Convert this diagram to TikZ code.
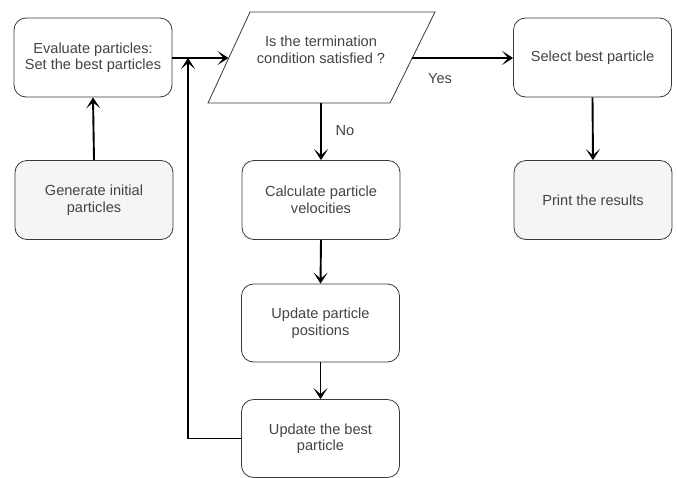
\documentclass[tikz,border=0pt]{standalone}
\usepackage{fontspec}
\setmainfont{Liberation Sans}
\usetikzlibrary{arrows.meta}
\definecolor{edgegray}{HTML}{3A3A3A}
\definecolor{txtgray}{HTML}{444444}
\definecolor{softfill}{HTML}{F5F5F5}
\begin{document}
\begin{tikzpicture}[x=1pt,y=-1pt,
  font=\fontsize{14.6}{16.5}\selectfont,
  box/.style={draw=edgegray,line width=0.8pt,rounded corners=12pt,fill=white,
    minimum width=158pt,minimum height=79pt,align=center,text=txtgray,inner sep=2pt},
  greybox/.style={box,fill=softfill},
  flow/.style={draw=black,line width=1.9pt,
    -{Stealth[length=11pt,width=14pt,inset=6pt]}},
  lbl/.style={text=txtgray,inner sep=0pt}]
\useasboundingbox (0,0) rectangle (677,477);

% process boxes
\node[box]     (eval)  at (93,57.5)    {Evaluate particles:\\Set the best particles};
\node[greybox] (gen)   at (94,200)     {Generate initial\\particles};
\node[box]     (calc)  at (321,200)    {Calculate particle\\velocities};
\node[box,minimum height=78pt] (upos)  at (320.5,323) {Update particle\\positions};
\node[box,minimum height=78pt] (ubest) at (320.5,438.5) {Update the best\\particle};
\node[box]     (sel)   at (592.5,57.5) {Select best particle};
\node[greybox] (prn)   at (593,200)    {Print the results};

% decision parallelogram
\draw[draw=edgegray,line width=0.8pt,fill=white]
  (250,12) -- (435,12) -- (390,103) -- (208,103) -- cycle;
\node[lbl,align=center] (cond) at (321,50) {Is the termination\\condition satisfied ?};
\coordinate (condin)  at (228.5,58);
\coordinate (condyes) at (412.3,58);
\coordinate (condno)  at (321,103);
\coordinate (join)    at (188,58);

% connectors
\draw[flow] (gen.north) -- (eval.south);
\draw[flow] (eval.east |- condin) -- (condin);
\draw[flow] (ubest.west) -| (join);
\draw[flow] (condyes) -- (sel.west |- condyes);
\draw[flow] (condno) -- (calc.north);
\draw[flow] (calc.south) -- (upos.north);
\draw[flow] (upos.south) -- (ubest.north);
\draw[flow] (sel.south) -- (prn.north);

% branch labels
\node[lbl] (yes) at (440,79) {Yes};
\node[lbl] (no)  at (345,131) {No};
\end{tikzpicture}
\end{document}
